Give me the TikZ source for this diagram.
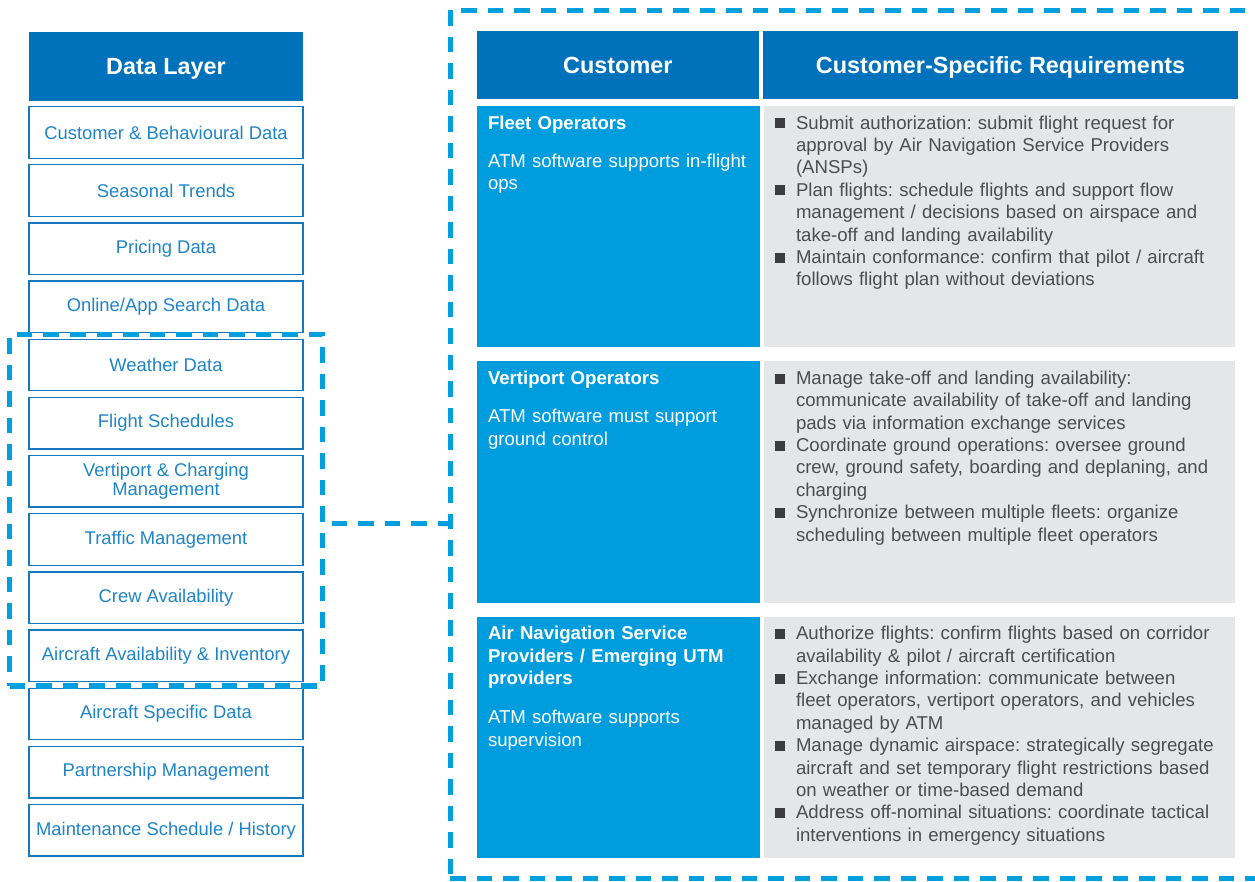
\documentclass[tikz,border=0pt]{standalone}
\usepackage{fontspec}
\setmainfont{Liberation Sans}
\usepackage{xcolor}
\usepackage{tikz}
\usetikzlibrary{positioning,calc,fit}
\frenchspacing
\definecolor{HeadBlue}{RGB}{0,114,187}
\definecolor{CellBlue}{RGB}{0,157,222}
\definecolor{DashBlue}{RGB}{0,160,223}
\definecolor{CellGray}{RGB}{229,230,232}
\definecolor{LineBlue}{RGB}{22,120,190}
\definecolor{LabelBlue}{RGB}{30,133,200}
\definecolor{ReqGray}{RGB}{77,77,79}
\definecolor{BulletGray}{RGB}{60,60,62}
\tikzset{
    headcell/.style={rectangle, fill=HeadBlue, text=white, inner sep=0pt, text height=8.4pt, text depth=0pt, font=\fontsize{11.7}{14}\selectfont\bfseries},
    databox/.style={rectangle, draw=LineBlue, line width=0.65pt, fill=white, text=LabelBlue, align=center, minimum width=137pt, minimum height=25.75pt, inner sep=0pt, font=\fontsize{9.2}{9.7}\selectfont},
    selbox/.style={draw=DashBlue, line width=2.5pt, dash pattern=on 7.75pt off 5.5pt}
}
\newcommand{\reqitem}[1]{\leftskip=10.5pt\parskip=0pt\noindent\llap{\makebox[10.5pt][l]{\textcolor{BulletGray}{\rule[0.4pt]{5pt}{5pt}}}}#1\par}

\begin{document}
\begin{tikzpicture}[
        x=0.5pt, y=-0.5pt,
        % --- CELL STYLES ---
        custcell/.style={rectangle, fill=CellBlue, minimum width=141.5pt, minimum height=120.75pt, inner sep=0pt},
        reqcell/.style={rectangle, fill=CellGray, minimum width=235.75pt, minimum height=120.75pt, inner sep=0pt},
        % text in the cells
        custtext/.style={anchor=base west, text width=140pt, align=left, inner sep=0pt, text=white, font=\fontsize{9.3}{11.2}\selectfont},
        reqtext/.style={anchor=base west, text width=240pt, inner sep=0pt, text=ReqGray, font=\fontsize{9.3}{11.2}\selectfont}
    ]
    \useasboundingbox (0,0) rectangle (1255,882);

    % --- DATA LAYER ---
    \node[headcell, minimum width=137pt, minimum height=34.4pt] (datahead) at (166,66.3) {Data Layer};
    \foreach \lbl [count=\i] in {Customer \& Behavioural Data, Seasonal Trends, Pricing Data,
            Online/App Search Data, Weather Data, Flight Schedules, Vertiport \& Charging\\Management,
            Traffic Management, Crew Availability, Aircraft Availability \& Inventory,
            Aircraft Specific Data, Partnership Management, Maintenance Schedule / History}
        \node[databox] (d\i) at (166,{132.45+58.15*(\i-1)}) {\lbl};

    % --- DASHED FRAMES ---
    \node[selbox, fit=(d5)(d10), inner xsep=9.4pt, inner ysep=1.9pt] (datasel) {};
    \node[selbox, minimum width=412.5pt, minimum height=433.75pt, inner sep=0pt] (custbox) at (862.5,444.25) {};
    \coordinate (link) at (0,524);
    \draw[selbox, dash phase=9.75pt] (datasel.east |- link) -- (custbox.west |- link);

    % --- TABLE HEADER ---
    \node[headcell, minimum width=141.15pt, minimum height=34.15pt] (custhead) at (617.85,65.15) {Customer};
    \node[headcell, minimum width=237.2pt, minimum height=34.15pt] (reqhead) at (1000.5,65.15) {Customer-Specific Requirements};

    % --- TABLE ROWS ---
    \foreach \name/\top in {fleet/106, vport/361.3, ansp/616.6} {
        \node[custcell] (\name) at (618,{\top+120.75}) {};
        \node[reqcell] (\name req) at (999.25,{\top+120.75}) {};
    }

    % Fleet Operators
    \node[custtext] (fleettxt) at ($(fleet.north west)+(11.5,23.5)$)
        {\textbf{Fleet Operators}\\[8pt]ATM software supports in-flight\\ops};
    \node[reqtext] (fleetlist) at ($(fleetreq.north west)+(11.5,23.5)$) {%
        \reqitem{Submit authorization: submit flight request for\\approval by Air Navigation Service Providers\\(ANSPs)}%
        \reqitem{Plan flights: schedule flights and support flow\\management / decisions based on airspace and\\take-off and landing availability}%
        \reqitem{Maintain conformance: confirm that pilot / aircraft\\follows flight plan without deviations}};

    % Vertiport Operators
    \node[custtext] (vporttxt) at ($(vport.north west)+(11.5,23.5)$)
        {\textbf{Vertiport Operators}\\[8pt]ATM software must support\\ground control};
    \node[reqtext] (vportlist) at ($(vportreq.north west)+(11.5,23.5)$) {%
        \reqitem{Manage take-off and landing availability:\\communicate availability of take-off and landing\\pads via information exchange services}%
        \reqitem{Coordinate ground operations: oversee ground\\crew, ground safety, boarding and deplaning, and\\charging}%
        \reqitem{Synchronize between multiple fleets: organize\\scheduling between multiple fleet operators}};

    % Air Navigation Service Providers
    \node[custtext] (ansptxt) at ($(ansp.north west)+(11.5,23.5)$)
        {\textbf{Air Navigation Service\\Providers / Emerging UTM\\providers}\\[8.5pt]ATM software supports\\supervision};
    \node[reqtext] (ansplist) at ($(anspreq.north west)+(11.5,23.5)$) {%
        \reqitem{Authorize flights: confirm flights based on corridor\\availability \& pilot / aircraft certification}%
        \reqitem{Exchange information: communicate between\\fleet operators, vertiport operators, and vehicles\\managed by ATM}%
        \reqitem{Manage dynamic airspace: strategically segregate\\aircraft and set temporary flight restrictions based\\on weather or time-based demand}%
        \reqitem{Address off-nominal situations: coordinate tactical\\interventions in emergency situations}};

\end{tikzpicture}
\end{document}
